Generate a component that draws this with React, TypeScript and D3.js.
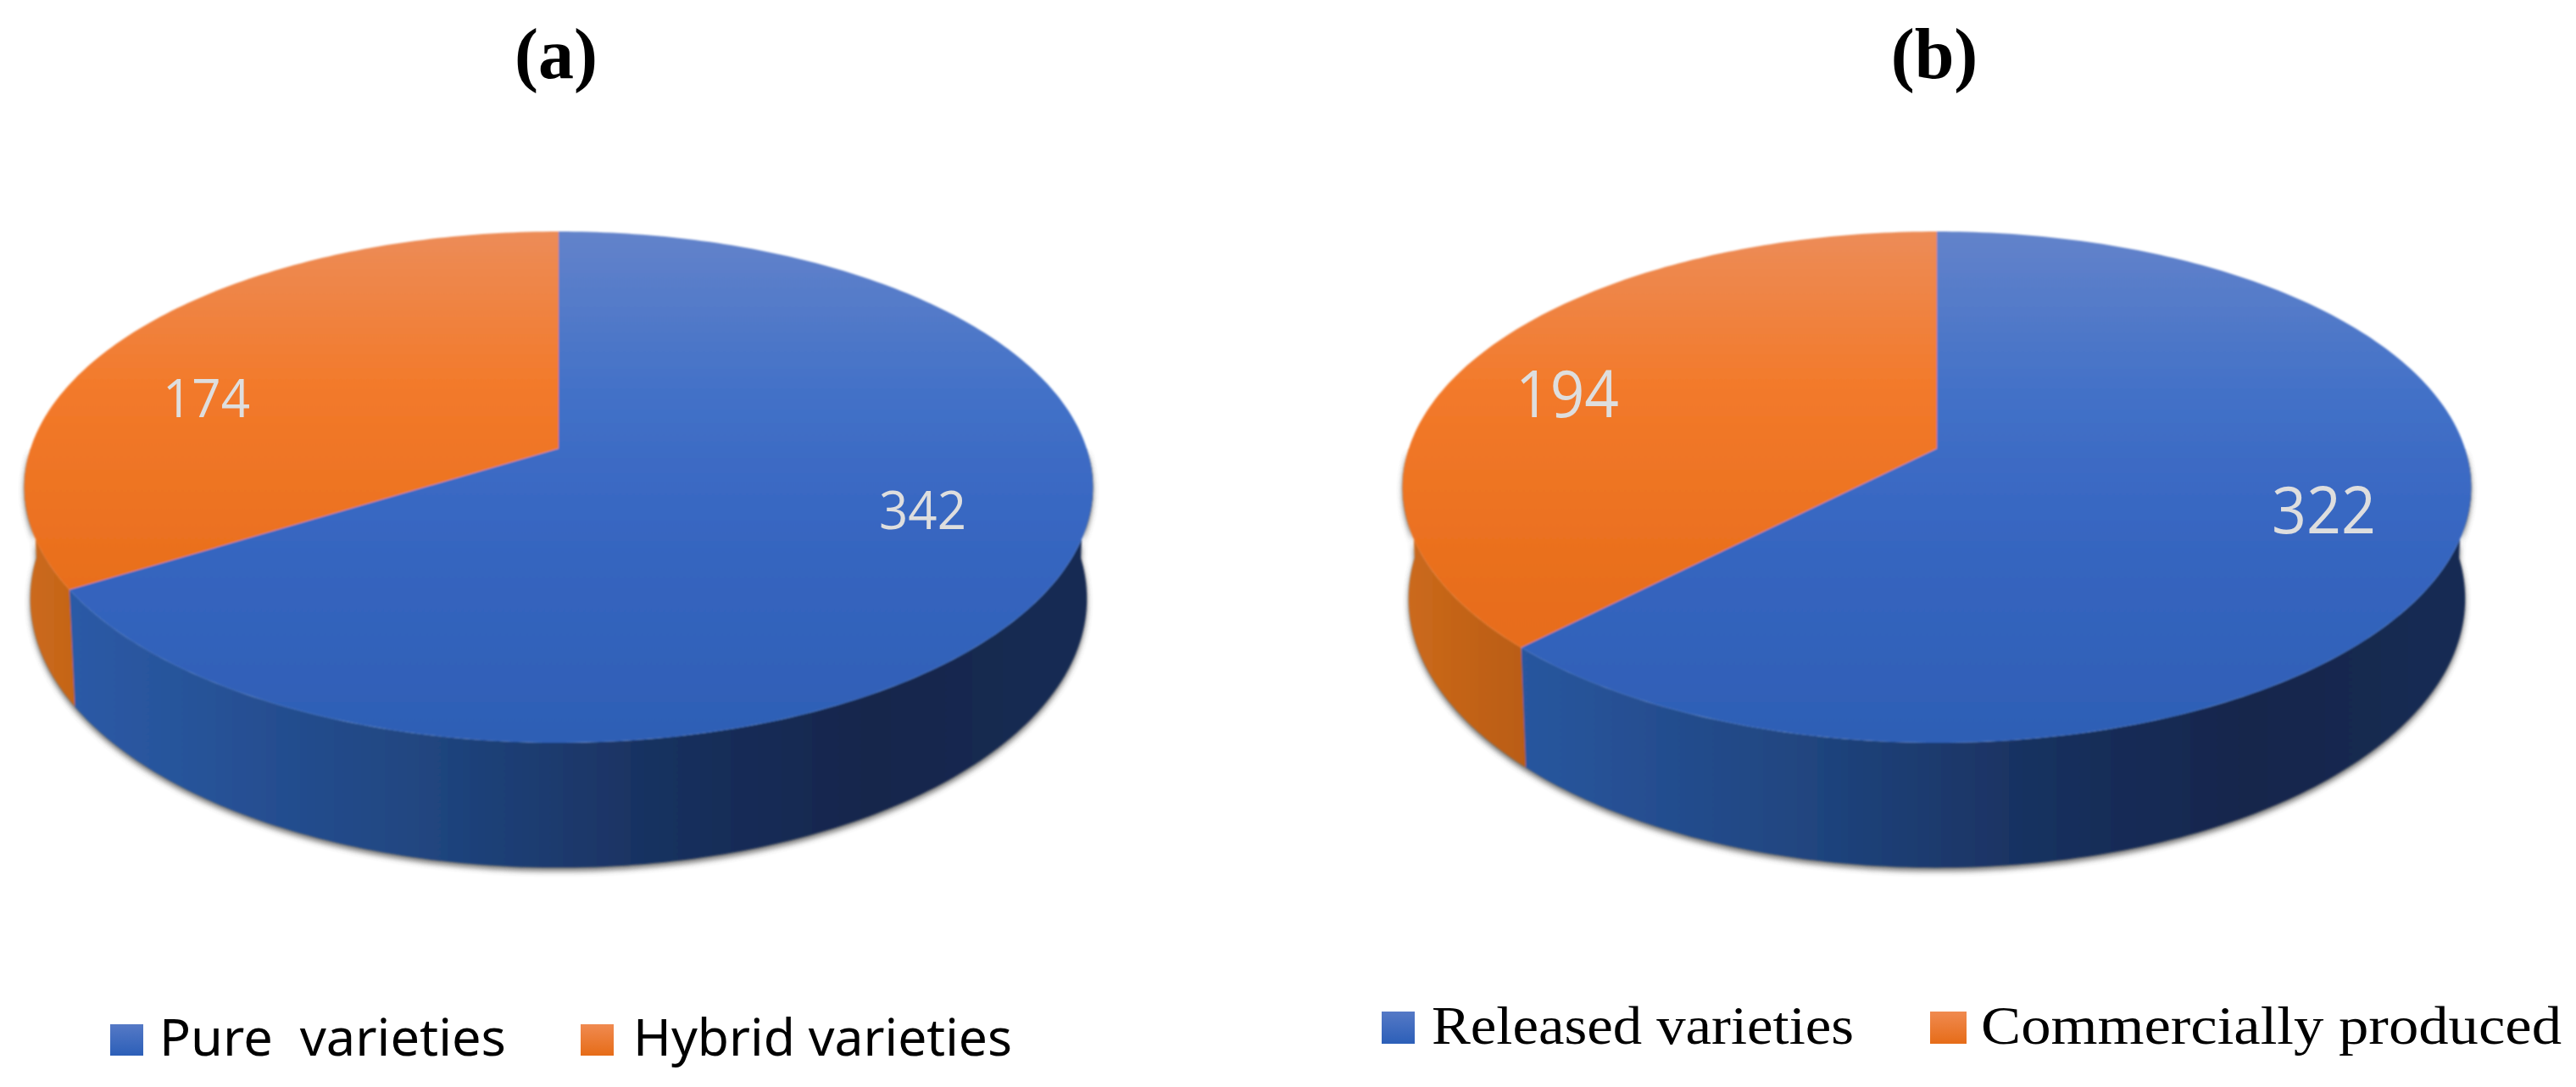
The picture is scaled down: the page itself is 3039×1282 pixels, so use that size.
import { useEffect, useRef } from 'react';
import * as d3 from 'd3';

const titles = ['(a)', '(b)'];
const categoriesA = ['Pure  varieties', 'Hybrid varieties'];
const categoriesB = ['Released varieties', 'Commercially produced'];
const valuesA = [342, 174];
const valuesB = [322, 194];

const W = 3039;
const H = 1282;

// perspective of the disc, k is how much closer the front edge is
const k = 0.151;
const topDisc = { a: 623, b: 294.6, dy: 529 };
const sideDisc = { a: 616, b: 310, dy: 658 };

type Disc = { a: number; b: number; dy: number };

const project = (cx: number, d: Disc, ang: number): [number, number] => {
  const u = Math.sin(ang);
  const v = -Math.cos(ang);
  const w = 1 - k * v;
  return [cx + (d.a * u) / w, d.dy + (d.b * v) / w];
};

const arcPoints = (cx: number, d: Disc, a0: number, a1: number) => {
  const n = Math.max(2, Math.ceil(Math.abs(a1 - a0) * 60));
  return d3.range(n + 1).map((i) => project(cx, d, a0 + ((a1 - a0) * i) / n));
};

const line = d3.line();

function drawPie(svg: any, cx: number, values: number[], labels: any[]) {
  const pie = d3.pie<number>().sort(null);
  const [blue, orange] = pie(values);
  const apex: [number, number] = [cx, topDisc.dy];

  // shadow under the wall
  const outline = [
    ...arcPoints(cx, topDisc, Math.PI / 2, (3 * Math.PI) / 2),
    ...arcPoints(cx, sideDisc, (3 * Math.PI) / 2, Math.PI / 2),
  ];
  svg.append('path')
    .attr('d', line(outline) + 'Z')
    .attr('fill', '#444')
    .attr('opacity', 0.8)
    .attr('transform', 'translate(0,4)')
    .attr('filter', 'url(#shadow)');

  const g = svg.append('g').attr('filter', 'url(#soft)');

  const walls = [
    { id: 'sideBlue', from: Math.PI / 2, to: blue.endAngle },
    { id: 'sideOrange', from: blue.endAngle, to: (3 * Math.PI) / 2 },
  ];
  walls.forEach((w) => {
    g.append('path')
      .attr('d', line([...arcPoints(cx, topDisc, w.from, w.to), ...arcPoints(cx, sideDisc, w.to, w.from)]) + 'Z')
      .attr('fill', `url(#${w.id}${cx})`);
  });

  const slices = [
    { s: blue, fill: 'url(#topBlue)' },
    { s: orange, fill: 'url(#topOrange)' },
  ];
  slices.forEach(({ s, fill }) => {
    g.append('path')
      .attr('d', line([apex, ...arcPoints(cx, topDisc, s.startAngle, s.endAngle)]) + 'Z')
      .attr('fill', fill);
  });

  labels.forEach((l) => {
    svg.append('text')
      .attr('x', l.x)
      .attr('y', l.y)
      .attr('font-family', 'Open Sans')
      .attr('font-size', l.size)
      .attr('fill', '#dedede')
      .attr('textLength', l.len)
      .attr('lengthAdjust', 'spacingAndGlyphs')
      .text(l.text);
  });
}

function App() {
  const svgRef = useRef<SVGSVGElement>(null);

  useEffect(() => {
    const svg = d3.select(svgRef.current);
    svg.selectAll('*').remove();
    const defs = svg.append('defs');

    const vGrad = (id: string, stops: [number, string][]) => {
      const gr = defs.append('linearGradient').attr('id', id)
        .attr('gradientUnits', 'userSpaceOnUse')
        .attr('x1', 0).attr('x2', 0).attr('y1', 273).attr('y2', 876);
      stops.forEach(([o, c]) => gr.append('stop').attr('offset', o).attr('stop-color', c));
    };
    vGrad('topBlue', [[0, '#6383ca'], [0.3, '#4472c8'], [0.55, '#3867c2'], [1, '#2e5fb5']]);
    vGrad('topOrange', [[0, '#ec8c58'], [0.3, '#f37a2b'], [0.7, '#e86e1c'], [1, '#e56b18']]);

    const hGrad = (id: string, x1: number, x2: number, stops: [number, string][]) => {
      const gr = defs.append('linearGradient').attr('id', id)
        .attr('gradientUnits', 'userSpaceOnUse')
        .attr('x1', x1).attr('x2', x2).attr('y1', 0).attr('y2', 0);
      stops.forEach(([o, c]) => gr.append('stop').attr('offset', o).attr('stop-color', c));
    };
    const centers = [659, 2285];
    centers.forEach((cx) => {
      hGrad(`sideBlue${cx}`, cx - 570, cx + 630, [
        [0, '#2b5aa6'], [0.35, '#20457f'], [0.6, '#182f5c'], [0.78, '#13264c'], [1, '#172c54'],
      ]);
      hGrad(`sideOrange${cx}`, cx - 630, cx - 480, [[0, '#cc6a1c'], [1, '#b95c12']]);
    });

    const soft = defs.append('filter').attr('id', 'soft')
      .attr('x', '-2%').attr('y', '-2%').attr('width', '104%').attr('height', '104%');
    soft.append('feGaussianBlur').attr('stdDeviation', 1.1);
    const shadow = defs.append('filter').attr('id', 'shadow')
      .attr('x', '-5%').attr('y', '-5%').attr('width', '110%').attr('height', '110%');
    shadow.append('feGaussianBlur').attr('stdDeviation', 3.5);

    drawPie(svg.append('g'), centers[0], valuesA, [
      { x: 1037, y: 624, size: 62, len: 103, text: String(valuesA[0]) },
      { x: 192, y: 492, size: 62, len: 103, text: String(valuesA[1]) },
    ]);
    drawPie(svg.append('g'), centers[1], valuesB, [
      { x: 2680, y: 629, size: 76, len: 123, text: String(valuesB[0]) },
      { x: 1788, y: 492, size: 76, len: 122, text: String(valuesB[1]) },
    ]);

    titles.forEach((t, i) => {
      svg.append('text')
        .attr('x', centers[i] - 3)
        .attr('y', 92)
        .attr('text-anchor', 'middle')
        .attr('font-family', 'Liberation Serif')
        .attr('font-weight', 'bold')
        .attr('font-size', 84)
        .attr('fill', '#000')
        .text(t);
    });

    const legend = [
      { text: categoriesA[0], fill: 'url(#legBlueA)', sx: 130, sw: 39, y0: 1208, y1: 1245, tx: 188, len: 409, font: 'Noto Sans', size: 60 },
      { text: categoriesA[1], fill: 'url(#legOrangeA)', sx: 685, sw: 39, y0: 1208, y1: 1245, tx: 747, len: 447, font: 'Noto Sans', size: 60 },
      { text: categoriesB[0], fill: 'url(#legBlueB)', sx: 1630, sw: 39, y0: 1193, y1: 1231, tx: 1689, len: 498, font: 'Liberation Serif', size: 64 },
      { text: categoriesB[1], fill: 'url(#legOrangeB)', sx: 2277, sw: 43, y0: 1193, y1: 1231, tx: 2337, len: 685, font: 'Liberation Serif', size: 64 },
    ];
    const legGrad = (id: string, a: string, b: string) => {
      const gr = defs.append('linearGradient').attr('id', id).attr('x1', 0).attr('x2', 0).attr('y1', 0).attr('y2', 1);
      gr.append('stop').attr('offset', 0).attr('stop-color', a);
      gr.append('stop').attr('offset', 1).attr('stop-color', b);
    };
    ['A', 'B'].forEach((s) => {
      legGrad(`legBlue${s}`, '#5579c6', '#2c5fb8');
      legGrad(`legOrange${s}`, '#f08a50', '#e66c18');
    });
    legend.forEach((l) => {
      svg.append('rect')
        .attr('x', l.sx).attr('y', l.y0)
        .attr('width', l.sw).attr('height', l.y1 - l.y0)
        .attr('fill', l.fill);
      svg.append('text')
        .attr('x', l.tx).attr('y', l.y1)
        .attr('font-family', l.font)
        .attr('font-size', l.size)
        .attr('fill', '#000')
        .attr('textLength', l.len)
        .attr('lengthAdjust', 'spacingAndGlyphs')
        .style('white-space', 'pre')
        .text(l.text);
    });
  }, []);

  return (
    <svg
      ref={svgRef}
      width={W}
      height={H}
      viewBox={`0 0 ${W} ${H}`}
      style={{ position: 'absolute', left: 0, top: 0, background: '#fff' }}
    />
  );
}

export default App;
